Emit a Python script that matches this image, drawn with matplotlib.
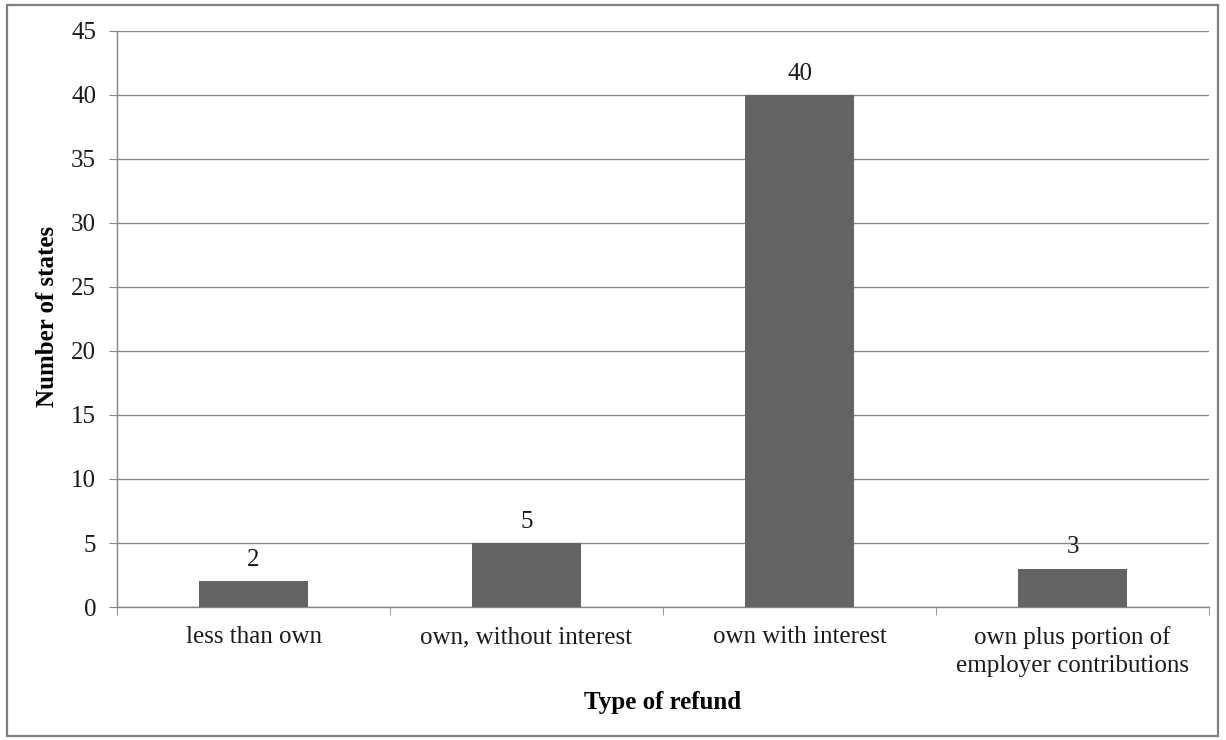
import matplotlib.pyplot as plt
from matplotlib.patches import Rectangle

categories = ['less than own', 'own, without interest', 'own with interest',
              'own plus portion of\nemployer contributions']
states = [2, 5, 40, 3]
yticks = [0, 5, 10, 15, 20, 25, 30, 35, 40, 45]

plt.rcParams['font.family'] = ['Liberation Serif', 'DejaVu Serif']
grey = '#868686'

fig = plt.figure(figsize=(12.26, 7.4), dpi=100)
ax = fig.add_axes([117 / 1226, 1 - 607 / 740, 1092 / 1226, 576 / 740])

x = list(range(len(categories)))
bars = ax.bar(x, states, width=0.4, color='#646464', zorder=3)
for xi, v in zip(x, states):
    ax.annotate(str(v), (xi, v), xytext=(0, 11), textcoords='offset points',
                ha='center', va='baseline', fontsize=18, color='#1a1a1a')

ax.set_xlim(-0.5, len(categories) - 0.5)
ax.set_ylim(0, 45)
ax.set_yticks(yticks)
ax.yaxis.grid(True, color=grey, linewidth=1, zorder=0)
ax.set_axisbelow(True)

for s in ['top', 'right']:
    ax.spines[s].set_visible(False)
for s in ['left', 'bottom']:
    ax.spines[s].set_color(grey)
    ax.spines[s].set_linewidth(1)

ax.set_xticks(x)
ax.set_xticklabels(categories, linespacing=1.3)
ax.set_xticks([i - 0.5 for i in range(len(categories) + 1)], minor=True)
ax.tick_params(axis='x', which='major', length=0, pad=14, labelsize=18, labelcolor='#1a1a1a')
ax.tick_params(axis='x', which='minor', length=6, color=grey, direction='out')
ax.tick_params(axis='y', length=6, color=grey, pad=9, labelsize=18, labelcolor='#1a1a1a')

fig.text(48 / 1226, 1 - 316 / 740, 'Number of states', rotation=90, ha='center', va='center',
         fontsize=18, fontweight='bold')
fig.text(663 / 1226, 1 - 703 / 740, 'Type of refund', ha='center', va='center',
         fontsize=18, fontweight='bold')

fig.patches.append(Rectangle((7 / 1226, 4 / 740), 1211 / 1226, 731 / 740,
                             transform=fig.transFigure, fill=False,
                             edgecolor='#7f7f7f', linewidth=1.6))

fig.savefig('out.png', dpi=100)
